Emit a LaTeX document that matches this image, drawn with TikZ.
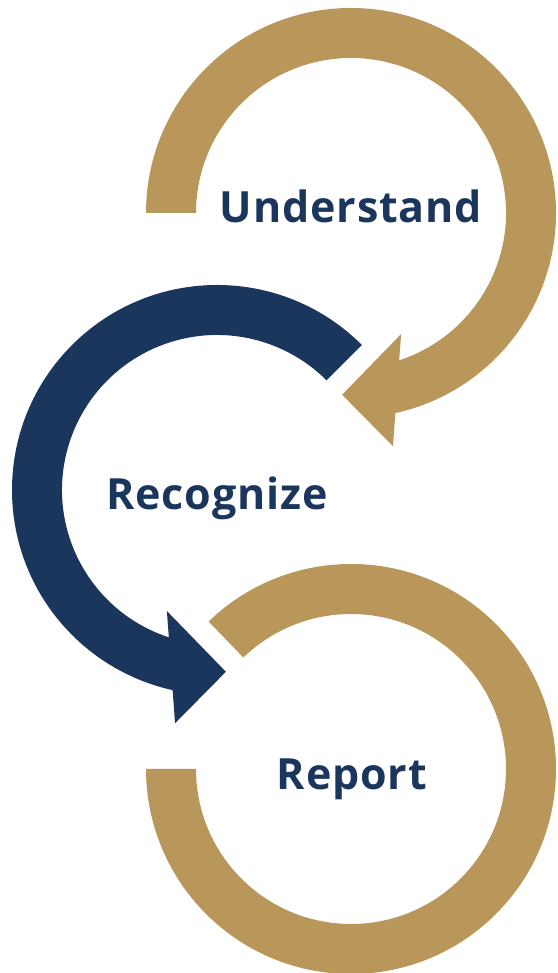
\documentclass[tikz,border=0pt]{standalone}
\usepackage{fontspec}
\setmainfont{Open Sans}[LetterSpace=2]
\usepackage{tikz}
\usetikzlibrary{calc}
\definecolor{cyclegold}{RGB}{185,151,91}
\definecolor{cyclenavy}{RGB}{27,54,93}

\begin{document}
\begin{tikzpicture}[
    x=1pt, y=1pt,
    gold ring/.style={fill=cyclegold, draw=none},
    navy ring/.style={fill=cyclenavy, draw=none},
    step label/.style={color=cyclenavy, font=\fontsize{43}{50}\selectfont\bfseries, anchor=base, inner sep=0pt}
    ]

    \useasboundingbox (0,0) rectangle (557,973);

    % centres of the three rings
    \coordinate (T) at (351,760);
    \coordinate (N) at (217,483);
    \coordinate (B) at (351,204);

    % top ring, arrow into the navy one
    \fill[gold ring] ($(T)+(180:205)$) arc[start angle=180, end angle=-77.5, radius=205]
        -- ($(T)+(-79.8:237)$) -- ($(T)+(-92.8:182)$) -- ($(T)+(-67.5:131)$)
        -- ($(T)+(-71.9:155)$) arc[start angle=-71.9, end angle=180, radius=155] -- cycle;
    % middle ring
    \fill[navy ring] ($(N)+(45:205)$) arc[start angle=45, end angle=257.5, radius=205]
        -- ($(N)+(259.8:237)$) -- ($(N)+(272.8:182)$) -- ($(N)+(247.5:131)$)
        -- ($(N)+(251.9:155)$) arc[start angle=251.9, end angle=45, radius=155] -- cycle;
    % bottom ring
    \fill[gold ring] ($(B)+(134:205)$) arc[start angle=134, end angle=-180, radius=205]
        -- ($(B)+(180:155)$) arc[start angle=-180, end angle=134, radius=155] -- cycle;

    % labels
    \node[step label] (und) at (351,750) {Understand};
    \node[step label] (rec) at (217,463) {Recognize};
    \node[step label] (rep) at (352,183) {Report};
\end{tikzpicture}
\end{document}
